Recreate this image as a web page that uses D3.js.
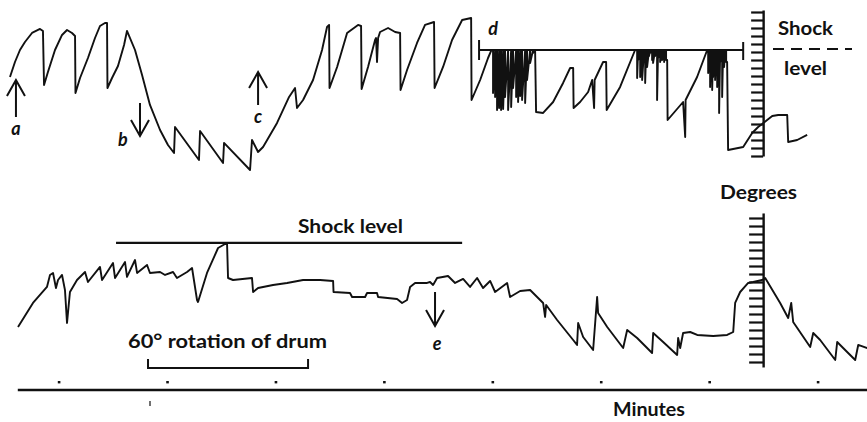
<!DOCTYPE html>
<html>
<head>
<meta charset="utf-8">
<script src="https://cdn.jsdelivr.net/npm/d3@7"></script>
<style>
body { margin: 0; background: #fff; }
svg { display: block; }
.trace { fill: none; stroke: #111; stroke-width: 1.9; stroke-linejoin: round; }
.ink { stroke: #111; fill: none; }
text { font-family: Lato, "Open Sans", sans-serif; fill: #111; }
.ruler .domain { stroke: #111; stroke-width: 2.4; }
.ruler .tick line { stroke: #111; stroke-width: 2.2; }
</style>
</head>
<body>
<svg id="chart" width="867" height="422"></svg>
<script>
// x = time in minutes (the dots are whole minutes), y = pen height in degrees (one ruler tick = 1 deg)
var minuteDots = [1, 2, 3, 4, 5, 6, 7, 8];
var timeLine = [0.62, 8.46];
var drumBracket = [1.821, 3.297];

// upper record
var topA = [[0.548,12.38],[0.594,14.25],[0.640,15.75],[0.686,16.75],[0.751,17.88],[0.825,18.38],[0.852,18.13],
  [0.862,11.38],[0.898,13.0],[0.963,15.75],[1.028,17.63],[1.074,18.25],[1.120,17.88],[1.148,17.5],
  [1.152,10.38],[1.194,12.25],[1.267,14.75],[1.332,17.25],[1.378,18.75],[1.424,19.13],[1.443,19.13],
  [1.447,11.0],[1.489,12.25],[1.544,13.75],[1.600,16.38],[1.627,18.13],[1.701,15.75],[1.766,12.63],
  [1.839,8.88],[1.932,5.75],[2.005,3.88],[2.061,2.88],[2.070,6.13],[2.291,2.0],[2.301,5.63],[2.513,1.63],
  [2.522,4.13],[2.762,0.75],[2.780,4.5],[2.836,3.0],[2.882,3.63],[3.011,6.63],[3.122,9.88],[3.177,11.0],
  [3.195,8.5],[3.251,9.5],[3.343,12.0],[3.426,15.75],[3.472,18.63],[3.491,18.88],[3.495,11.0],[3.565,13.63],
  [3.657,17.88],[3.758,18.88],[3.786,18.75],[3.791,10.88],[3.850,13.63],[3.915,17.0],[3.924,17.25],
  [3.933,14.25],[3.943,17.25],[3.961,18.0],[4.035,18.5],[4.100,18.0],[4.146,17.88],[4.150,10.75],
  [4.210,13.25],[4.302,16.63],[4.376,18.88],[4.459,19.25],[4.464,11.0],[4.542,13.63],[4.625,17.0],
  [4.718,19.5],[4.801,19.75],[4.805,9.5],[4.884,12.0],[4.957,14.75],[4.985,15.63]];
var burst1 = [[5.003,10.38],[5.022,9.88],[5.040,8.25],[5.059,8.5],[5.077,8.25],[5.096,8.38],[5.114,9.88],
  [5.142,8.25],[5.170,8.63],[5.188,11.0],[5.216,9.88],[5.234,9.25],[5.253,10.0],[5.271,9.5],[5.299,9.13],
  [5.317,12.0],[5.345,14.13],[5.372,15.38]];
var topB = [[5.391,15.75],[5.400,8.0],[5.465,7.88],[5.557,9.25],[5.649,11.63],[5.714,13.5],[5.742,13.5],
  [5.746,8.5],[5.806,9.25],[5.880,10.5],[5.917,12.0],[5.935,8.5],[5.940,12.0],[6.018,14.25],[6.046,14.25],
  [6.051,8.25],[6.175,11.13],[6.313,15.75]];
var burst2 = [[6.332,12.25],[6.341,14.5],[6.360,12.38],[6.369,14.25],[6.378,12.0],[6.396,14.5],[6.406,11.63],
  [6.415,14.75],[6.424,13.63],[6.442,15.0],[6.452,15.38],[6.470,14.5],[6.479,14.13],[6.498,15.0],[6.516,9.5],
  [6.525,14.75],[6.544,14.25],[6.562,14.5],[6.581,14.25],[6.590,14.75],[6.599,14.5]];
var topC = [[6.609,14.5],[6.613,7.0],[6.756,9.25],[6.775,4.88],[6.779,9.5],[6.885,12.38],[6.978,15.75]];
var burst3 = [[6.987,12.88],[6.996,14.75],[7.005,11.13],[7.015,14.5],[7.024,10.75],[7.033,12.38],[7.042,14.75],
  [7.051,12.0],[7.061,14.25],[7.070,11.13],[7.079,14.5],[7.088,7.88],[7.098,14.25],[7.116,9.88],[7.125,14.5],
  [7.134,13.63],[7.144,14.75],[7.153,14.25]];
var topD = [[7.162,14.25],[7.171,3.25],[7.310,3.63],[7.393,5.38],[7.448,6.13],[7.485,6.5],[7.531,7.0],
  [7.578,7.5],[7.633,7.63],[7.716,7.63],[7.725,4.25],[7.808,4.5],[7.900,5.13]];

// lower record
var bottomTrace = [[0.622,5.38],[0.760,8.38],[0.889,10.38],[0.917,11.88],[0.945,12.13],[0.954,11.5],[0.972,10.25],
  [0.991,11.25],[1.028,11.88],[1.055,10.0],[1.074,5.88],[1.101,9.75],[1.166,11.25],[1.240,12.25],[1.267,11.0],
  [1.378,12.88],[1.397,11.25],[1.498,13.38],[1.517,11.5],[1.609,13.5],[1.627,11.63],[1.701,13.75],[1.720,12.13],
  [1.812,13.13],[1.839,12.13],[1.932,12.25],[1.978,11.88],[2.052,12.25],[2.088,11.5],[2.181,12.25],[2.227,12.75],
  [2.273,8.75],[2.282,8.5],[2.365,12.13],[2.467,15.25],[2.531,15.75],[2.550,15.75],[2.559,11.5],[2.605,11.25],
  [2.780,11.5],[2.790,9.75],[2.836,10.25],[2.974,10.63],[3.103,10.88],[3.251,11.25],[3.408,11.25],[3.528,11.13],
  [3.532,9.75],[3.684,9.63],[3.703,9.13],[3.823,9.13],[3.841,9.63],[3.933,9.63],[3.943,9.13],[4.118,8.88],
  [4.164,8.38],[4.210,8.75],[4.238,10.38],[4.284,10.88],[4.395,10.88],[4.422,11.0],[4.450,10.63],[4.487,11.5],
  [4.588,11.75],[4.653,10.88],[4.727,11.38],[4.791,10.38],[4.856,11.5],[4.911,10.25],[4.976,11.13],[5.022,9.75],
  [5.133,10.88],[5.160,9.13],[5.253,9.88],[5.345,10.0],[5.465,8.38],[5.483,6.63],[5.493,8.13],[5.594,6.25],
  [5.742,3.75],[5.778,3.13],[5.788,5.88],[5.834,4.13],[5.926,2.5],[5.963,9.13],[5.972,7.13],[6.056,5.38],
  [6.203,2.75],[6.240,5.0],[6.332,4.0],[6.470,2.13],[6.480,4.63],[6.572,3.5],[6.701,1.88],[6.710,4.0],
  [6.729,2.75],[6.756,4.63],[6.821,4.75],[6.886,4.38],[7.033,4.25],[7.162,4.38],[7.218,4.75],[7.236,8.38],
  [7.282,9.75],[7.356,10.88],[7.402,11.0],[7.485,11.25],[7.513,11.5],[7.651,8.38],[7.725,6.5],[7.753,8.38],
  [7.771,6.0],[7.928,2.88],[7.956,4.63],[8.020,3.75],[8.159,1.25],[8.177,3.5],[8.232,2.75],[8.343,1.25],
  [8.371,3.13],[8.454,2.75]];

var shockTopSpan = [4.874, 7.310], shockTopLevel = 15.75;
var shockBotSpan = [1.526, 4.718], shockBotLevel = 15.88;
var rulerTime = 7.494;
var topRulerSpan = [2.5, 20.75];
var topRulerTicks = [2.5,3.5,4.5,5.5,6.5,7.5,8.5,9.5,10.5,11.5,12.5,13.5,14.5,15.5,16.5,17.5,18.5,19.5,20.5];
var botRulerSpan = [0.38, 19.63];
var botRulerTicks = [1,2,3,4,5,6,7,8,9,10,11,12,13,14,15,16,17,18,19];

// arrows: [time, tail, tip]
var topArrows = [[0.603, 7.38, 12.0], [1.747, 9.13, 5.0], [2.836, 8.88, 13.0]];
var botArrows = [[4.468, 9.75, 5.5]];
var topLetters = [["a", 0.603, 5.13], ["b", 1.590, 3.75], ["c", 2.836, 6.63], ["d", 5.003, 17.63]];
var botLetters = [["e", 4.487, 2.5]];

var svg = d3.select("#chart");
var x = d3.scaleLinear().domain([1, 8]).range([59, 818]);
var yTop = d3.scaleLinear().domain([0, 20]).range([176, 16]);
var yBot = d3.scaleLinear().domain([0, 20]).range([370, 210]);

function spikes(burst, level) {
    var pts = [];
    burst.forEach(function(d) {
        pts.push([d[0], level]);
        pts.push([d[0], d[1]]);
    });
    return pts;
}

var topTrace = [].concat(topA, spikes(burst1, shockTopLevel), topB, spikes(burst2, shockTopLevel),
    topC, spikes(burst3, shockTopLevel), topD);

var lineTop = d3.line().x(function(d) { return x(d[0]); }).y(function(d) { return yTop(d[1]); });
var lineBot = d3.line().x(function(d) { return x(d[0]); }).y(function(d) { return yBot(d[1]); });

// shock levels
svg.append("line").attr("class", "ink").attr("stroke-width", 2)
    .attr("x1", x(shockTopSpan[0])).attr("x2", x(shockTopSpan[1]))
    .attr("y1", yTop(shockTopLevel)).attr("y2", yTop(shockTopLevel));
shockTopSpan.forEach(function(t, i) {
    svg.append("line").attr("class", "ink").attr("stroke-width", 2)
        .attr("x1", x(t)).attr("x2", x(t))
        .attr("y1", yTop(shockTopLevel) - (i ? 8 : 10)).attr("y2", yTop(shockTopLevel) + 10);
});
svg.append("line").attr("class", "ink").attr("stroke-width", 2.2)
    .attr("x1", x(shockBotSpan[0])).attr("x2", x(shockBotSpan[1]))
    .attr("y1", yBot(shockBotLevel)).attr("y2", yBot(shockBotLevel));

// records
svg.append("path").datum(topTrace).attr("class", "trace").attr("d", lineTop);
svg.append("path").datum(bottomTrace).attr("class", "trace").attr("d", lineBot);

// degree rulers
var topRuler = d3.scaleLinear().domain(topRulerSpan).range(topRulerSpan.map(yTop));
var botRuler = d3.scaleLinear().domain(botRulerSpan).range(botRulerSpan.map(yBot));
svg.append("g").attr("class", "ruler").attr("transform", "translate(" + x(rulerTime) + ",0)")
    .call(d3.axisLeft(topRuler).tickValues(topRulerTicks).tickSize(12).tickSizeOuter(0).tickFormat(""));
svg.append("g").attr("class", "ruler").attr("transform", "translate(" + x(rulerTime) + ",0)")
    .call(d3.axisLeft(botRuler).tickValues(botRulerTicks).tickSize(14).tickSizeOuter(0).tickFormat(""));

// arrows
function drawArrow(a, y) {
    var px = x(a[0]), tail = y(a[1]), tip = y(a[2]);
    var dir = tip < tail ? 1 : -1;
    svg.append("path").attr("class", "ink").attr("stroke-width", 2)
        .attr("d", "M" + px + "," + tail + "V" + tip +
            "M" + (px - 9) + "," + (tip + dir * 16) + "L" + px + "," + tip + "L" + (px + 9) + "," + (tip + dir * 16));
}
topArrows.forEach(function(a) { drawArrow(a, yTop); });
botArrows.forEach(function(a) { drawArrow(a, yBot); });

function drawLetter(l, y) {
    svg.append("text").attr("x", x(l[1])).attr("y", y(l[2]))
        .attr("text-anchor", "middle").attr("font-size", 18).attr("font-weight", 700)
        .attr("font-style", "italic").text(l[0]);
}
topLetters.forEach(function(l) { drawLetter(l, yTop); });
botLetters.forEach(function(l) { drawLetter(l, yBot); });

// time base
svg.append("line").attr("class", "ink").attr("stroke-width", 2.6)
    .attr("x1", x(timeLine[0])).attr("x2", x(timeLine[1])).attr("y1", 390).attr("y2", 390);
svg.selectAll(".dot").data(minuteDots).enter().append("rect")
    .attr("x", function(d) { return x(d) - 1.2; }).attr("y", 381)
    .attr("width", 2.6).attr("height", 2.4).attr("fill", "#111");
svg.append("line").attr("class", "ink").attr("stroke-width", 1.2)
    .attr("x1", 150).attr("x2", 150).attr("y1", 401).attr("y2", 406);

// drum bracket
svg.append("path").attr("class", "ink").attr("stroke-width", 2)
    .attr("d", "M" + x(drumBracket[0]) + ",359V368H" + x(drumBracket[1]) + "V359");

// captions
function caption(str, px, py, len) {
    svg.append("text").attr("x", px).attr("y", py).attr("font-size", 19).attr("font-weight", 700)
        .attr("textLength", len).attr("lengthAdjust", "spacingAndGlyphs").text(str);
}
caption("Shock", 778, 35, 55);
caption("level", 784, 75, 43);
caption("Shock level", 298, 233, 105);
caption("Degrees", 720, 199, 77);
caption("60\u00b0 rotation of drum", 128, 348, 199);
caption("Minutes", 613, 416, 72);

svg.append("line").attr("class", "ink").attr("stroke-width", 2.2)
    .attr("stroke-dasharray", "11,7")
    .attr("x1", 773).attr("x2", 852).attr("y1", 49).attr("y2", 49);
</script>
</body>
</html>
